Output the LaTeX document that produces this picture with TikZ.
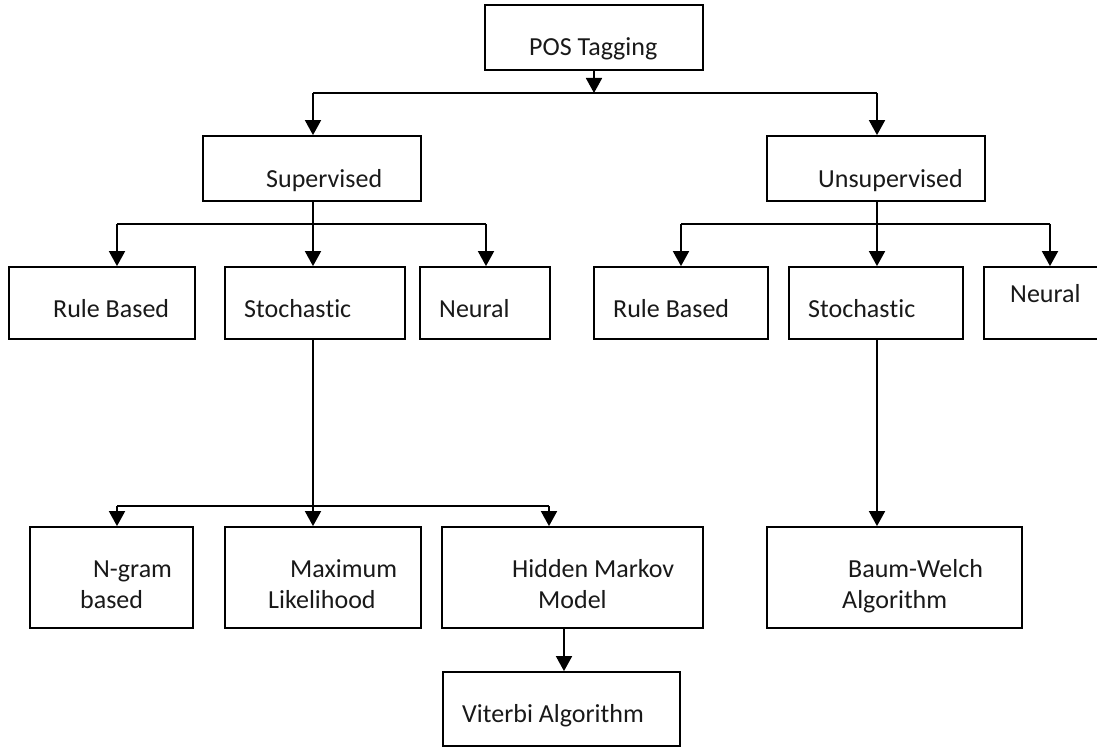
\documentclass[tikz,border=0pt]{standalone}
\usepackage{fontspec}
\setmainfont{Carlito}[Ligatures=NoCommon,RawFeature={-liga;-clig;-calt}]
\usetikzlibrary{arrows.meta}
\begin{document}
\begin{tikzpicture}[x=1pt,y=-1pt,
  box/.style={draw=black,line width=1.8pt,rectangle,inner sep=0pt,fill=white},
  lbl/.style={anchor=base west,inner sep=0pt,font=\fontsize{26}{31}\selectfont,text=black!90},
  ln/.style={line width=1.8pt},
  arr/.style={line width=1.8pt,-{Triangle[width=16pt,length=15pt]}}]
\useasboundingbox[fill=white] (0,0) rectangle (1097,751);
% boxes
\node[box,minimum width=218pt,minimum height=65pt] (pos) at (594,37.5) {};
\node[box,minimum width=218pt,minimum height=65pt] (sup) at (312,168.5) {};
\node[box,minimum width=218pt,minimum height=65pt] (uns) at (876,168.5) {};
\node[box,minimum width=186pt,minimum height=72pt] (rbl) at (102,303) {};
\node[box,minimum width=180pt,minimum height=72pt] (stl) at (315,303) {};
\node[box,minimum width=130pt,minimum height=72pt] (nel) at (485,303) {};
\node[box,minimum width=174pt,minimum height=72pt] (rbr) at (681,303) {};
\node[box,minimum width=174pt,minimum height=72pt] (str) at (876,303) {};
\node[box,minimum width=126pt,minimum height=72pt] (ner) at (1047,303) {};
\node[box,minimum width=163pt,minimum height=101pt] (ng) at (111.5,577.5) {};
\node[box,minimum width=196pt,minimum height=101pt] (ml) at (323,577.5) {};
\node[box,minimum width=261pt,minimum height=101pt] (hmm) at (572.5,577.5) {};
\node[box,minimum width=255pt,minimum height=101pt] (bw) at (894.5,577.5) {};
\node[box,minimum width=237pt,minimum height=74pt] (vit) at (561.5,709) {};
% labels
\node[lbl] (tpos) at (529,56) {POS Tagging};
\node[lbl] (tsup) at (266,188) {Supervised};
\node[lbl] (tuns) at (818,188) {Unsupervised};
\node[lbl] (trbl) at (53,317) {Rule Based};
\node[lbl] (tstl) at (244,317) {Stochas\kern0pt tic};
\node[lbl] (tnel) at (439,317) {Neural};
\node[lbl] (trbr) at (613,317) {Rule Based};
\node[lbl] (tstr) at (808,317) {Stochas\kern0pt tic};
\node[lbl] (tner) at (1010,302) {Neural};
\node[lbl] (tng1) at (93,577) {N-gram};
\node[lbl] (tng2) at (80,608) {based};
\node[lbl] (tml1) at (290,577) {Maximum};
\node[lbl] (tml2) at (268,608) {Likelihood};
\node[lbl] (thm1) at (512,577) {Hidden Markov};
\node[lbl] (thm2) at (538,608) {Model};
\node[lbl] (tbw1) at (848,577) {Baum-Welch};
\node[lbl] (tbw2) at (842,608) {Algorithm};
\node[lbl] (tvit) at (462,722) {Viterbi Algorithm};
% junction coordinates
\coordinate (j0) at (594,93);
\coordinate (j0l) at (313,93);
\coordinate (j0r) at (877,93);
\coordinate (j1) at (313,224);
\coordinate (j1l) at (117,224);
\coordinate (j1r) at (486,224);
\coordinate (j2) at (877,224);
\coordinate (j2l) at (681,224);
\coordinate (j2r) at (1050,224);
\coordinate (j3) at (313,506);
\coordinate (j3l) at (117,506);
\coordinate (j3r) at (549,506);
% connectors
\draw[arr] (pos.south -| j0) -- (j0);
\draw[ln] (j0l) -- (j0r);
\draw[arr] (j0l) -- (j0l |- sup.north);
\draw[arr] (j0r) -- (j0r |- uns.north);
\draw[ln] (sup.south -| j1) -- (j1);
\draw[ln] (j1l) -- (j1r);
\draw[arr] (j1l) -- (j1l |- rbl.north);
\draw[arr] (j1) -- (j1 |- stl.north);
\draw[arr] (j1r) -- (j1r |- nel.north);
\draw[ln] (uns.south -| j2) -- (j2);
\draw[ln] (j2l) -- (j2r);
\draw[arr] (j2l) -- (j2l |- rbr.north);
\draw[arr] (j2) -- (j2 |- str.north);
\draw[arr] (j2r) -- (j2r |- ner.north);
\draw[ln] (stl.south -| j3) -- (j3);
\draw[ln] (j3l) -- (j3r);
\draw[arr] (j3l) -- (j3l |- ng.north);
\draw[arr] (j3) -- (j3 |- ml.north);
\draw[arr] (j3r) -- (j3r |- hmm.north);
\draw[arr] (str.south -| j2) -- (j2 |- bw.north);
\draw[arr] (hmm.south -| vit.north) ++(2.5,0) coordinate (hv) -- (hv |- vit.north);
\end{tikzpicture}
\end{document}
